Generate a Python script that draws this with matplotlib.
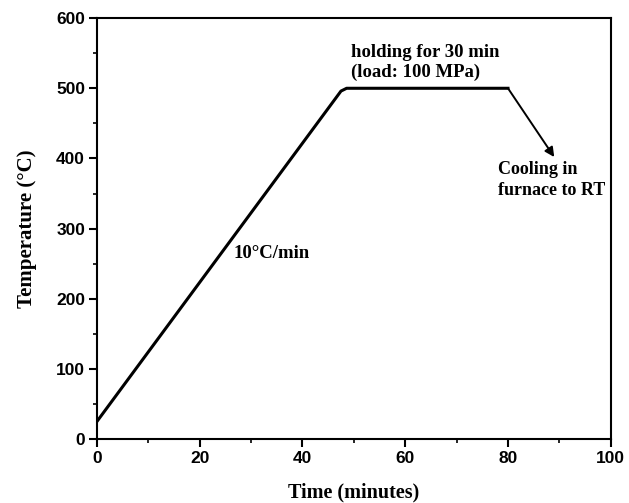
import matplotlib
matplotlib.use('Agg')

import matplotlib.pyplot as plt
from matplotlib.ticker import MultipleLocator

# heating profile
time_min = [0, 47.5, 48.6, 80]
temp_c = [25, 496, 500, 500]

# cooling arrow (start, end)
cool_start = (80, 500)
cool_end = (89, 402)

x_ticks = [0, 20, 40, 60, 80, 100]
y_ticks = [0, 100, 200, 300, 400, 500, 600]

serif = ['Liberation Serif', 'DejaVu Serif']
sans = ['Liberation Sans', 'DejaVu Sans']


def main():
    fig = plt.figure(figsize=(6.29, 5.03), dpi=100)
    ax = fig.add_axes([0.154, 0.127, 0.817, 0.837])

    ax.plot(time_min, temp_c, color='black', lw=2.2, solid_joinstyle='round')
    ax.annotate('', xy=cool_end, xytext=cool_start,
                arrowprops=dict(arrowstyle='-|>', color='black', lw=1.4,
                                mutation_scale=14, shrinkA=0, shrinkB=0))

    ax.set_xlim(0, 100)
    ax.set_ylim(0, 600)
    ax.set_xticks(x_ticks)
    ax.set_yticks(y_ticks)
    ax.xaxis.set_minor_locator(MultipleLocator(10))
    ax.yaxis.set_minor_locator(MultipleLocator(50))
    ax.tick_params(which='major', direction='out', length=6, width=1.5, pad=2.5)
    ax.tick_params(which='minor', direction='out', length=3, width=1.2)
    for lab in ax.get_xticklabels() + ax.get_yticklabels():
        lab.set_family(sans)
        lab.set_fontweight('bold')
        lab.set_fontsize(12.5)
    for sp in ax.spines.values():
        sp.set_linewidth(1.5)

    ax.set_xlabel('Time (minutes)', family=serif, fontweight='bold',
                  fontsize=14.5, labelpad=12)
    ax.set_ylabel('Temperature (°C)', family=serif, fontweight='bold',
                  fontsize=15, labelpad=14)

    ax.text(49.5, 537, 'holding for 30 min\n(load: 100 MPa)', family=serif,
            fontweight='bold', fontsize=13.5, va='center', ha='left',
            linespacing=1.25)
    ax.text(26.5, 265, '10°C/min', family=serif, fontweight='bold',
            fontsize=13.5, va='center', ha='left')
    ax.text(78.0, 369, 'Cooling in\nfurnace to RT', family=serif,
            fontweight='bold', fontsize=13, va='center', ha='left',
            linespacing=1.35)

    fig.savefig('out.png', dpi=100)


if __name__ == '__main__':
    main()
